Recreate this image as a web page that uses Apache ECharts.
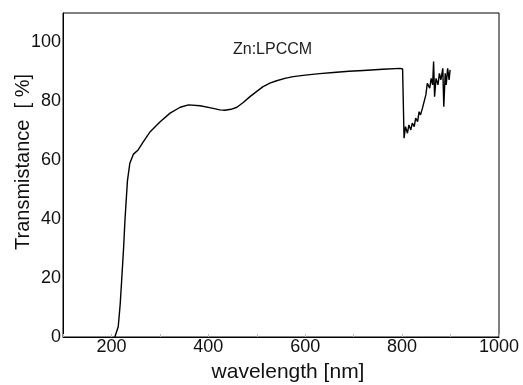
<!DOCTYPE html>
<html>
<head>
<meta charset="utf-8">
<script src="https://cdn.jsdelivr.net/npm/echarts@6/dist/echarts.min.js"></script>
<style>
  html, body { margin: 0; padding: 0; background: #fff; }
  #chart { width: 523px; height: 385px; }
</style>
</head>
<body>
<div id="chart"></div>
<script>
// wavelength (nm) and transmittance (%)
const wavelength = [207, 211, 214, 218, 221, 225, 228, 233, 238, 245, 255, 266, 280, 300, 321, 342, 359, 383, 405, 424, 434, 447, 459, 472, 486, 500, 513, 527, 541, 558, 575, 600, 630, 658, 690, 720, 760, 796, 801,
  804, 807, 811, 814, 818, 821, 825, 828, 832, 835, 838, 842, 846, 849, 852, 854, 857, 860, 863, 865, 867, 870, 874, 877, 880, 884, 886, 889, 891, 894, 897, 899];
const transmittance = [0, 0.5, 3.5, 11, 19, 30, 40, 53, 59, 62, 63.5, 66.3, 69.7, 73, 76, 78, 78.8, 78.5, 77.8, 77.1, 77, 77.3, 78, 79.6, 81.6, 83.4, 85, 86.2, 87, 87.8, 88.4, 88.9, 89.4, 89.8, 90.2, 90.5, 90.9, 91.2, 91,
  67.5, 71.4, 69.2, 72, 70.3, 72.6, 71.4, 74.3, 73.1, 76.5, 75.4, 77.7, 77.1, 82.2, 86.1, 86.7, 84.5, 87.8, 85.6, 93.5, 81.6, 87.8, 85.6, 89.5, 87.3, 91.2, 78.2, 89.5, 85.6, 91.2, 87.3, 90.7];

const xTicks = [200, 400, 600, 800, 1000];
const yTicks = [0, 20, 40, 60, 80, 100];
const sampleLabel = 'Zn:LPCCM';

const points = wavelength.map((w, i) => [w, transmittance[i]]);

const chartDom = document.getElementById('chart');
const myChart = echarts.init(chartDom);
const font = 'Liberation Sans, Arial, sans-serif';

const option = {
  animation: false,
  backgroundColor: '#fff',
  grid: {
    left: 63, right: 24, top: 13, bottom: 48,
    outerBoundsMode: 'none',
    containLabel: false,
    show: true, borderColor: '#000', borderWidth: 1
  },
  xAxis: {
    type: 'value',
    min: 100, max: 1000, interval: 100,
    name: 'wavelength [nm]',
    nameLocation: 'middle',
    nameGap: 25,
    nameMoveOverlap: false,
    nameTextStyle: { fontSize: 21, color: '#111', fontFamily: font, padding: [0, 0, 0, 14] },
    axisLine: { lineStyle: { color: '#000', width: 1 } },
    axisTick: { show: true, inside: true, length: 3, lineStyle: { color: '#bbb' } },
    splitLine: { show: false },
    axisLabel: {
      fontSize: 18, color: '#111', fontFamily: font, margin: 1,
      formatter: v => xTicks.includes(v) ? String(v) : ''
    }
  },
  yAxis: {
    type: 'value',
    min: 0, max: 110, interval: 10,
    name: 'Transmistance  [ %]',
    nameLocation: 'middle',
    nameGap: 30,
    nameMoveOverlap: false,
    nameTextStyle: { fontSize: 20, color: '#111', fontFamily: font, padding: [0, 0, 0, 26] },
    axisLine: { show: true, lineStyle: { color: '#000', width: 1 } },
    axisTick: { show: false },
    splitLine: { show: false },
    axisLabel: {
      fontSize: 18, color: '#111', fontFamily: font, margin: 2,
      formatter: v => yTicks.includes(v) ? String(v) : ''
    }
  },
  graphic: [{
    type: 'text',
    left: 233, top: 42,
    style: { text: sampleLabel, fontSize: 16, fill: '#222', fontFamily: font }
  }],
  series: [{
    type: 'line',
    data: points,
    showSymbol: false,
    smooth: false,
    lineStyle: { color: '#000', width: 1.4 }
  }]
};
myChart.setOption(option);
</script>
</body>
</html>
